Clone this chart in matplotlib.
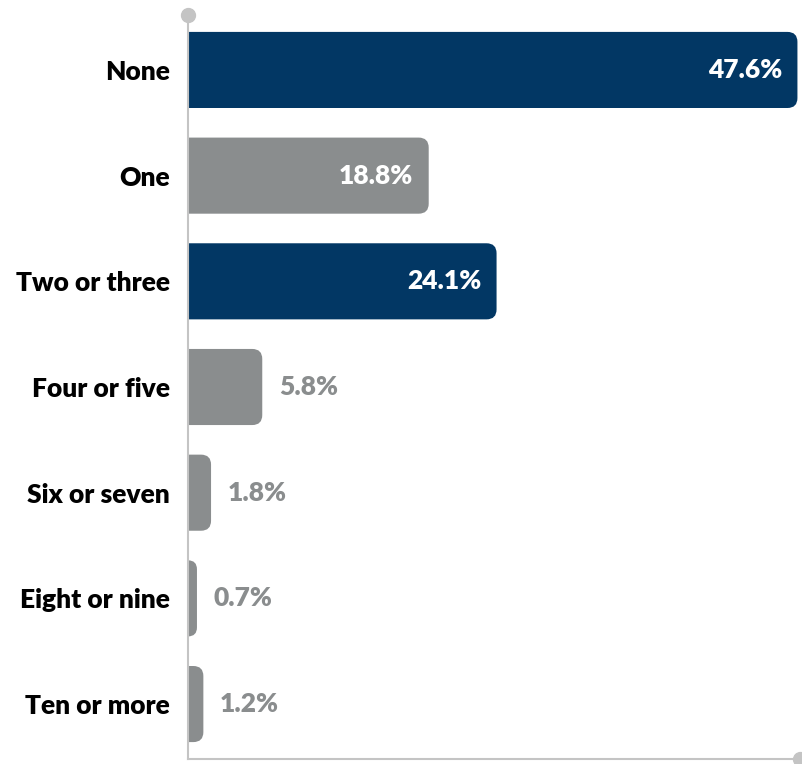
import matplotlib.pyplot as plt
from matplotlib.path import Path
from matplotlib.patches import PathPatch
import numpy as np

# Datos del gráfico
categorias = ["None", "One", "Two or three", "Four or five", "Six or seven",
              "Eight or nine", "Ten or more"]
valores = [47.6, 18.8, 24.1, 5.8, 1.8, 0.7, 1.2]
colores = ["#023764", "#8a8d8e", "#023764", "#8a8d8e", "#8a8d8e", "#8a8d8e", "#8a8d8e"]

GRIS = "#8a8d8e"
GRIS_EJE = "#c4c4c4"

plt.rcParams['font.family'] = ['Lato', 'DejaVu Sans']

W, H = 803, 764
fig = plt.figure(figsize=(W / 100, H / 100), dpi=100)
# ejes en pixeles: x de 188 a 800, y de 15 a 759
ax = fig.add_axes([188 / W, 1 - 759 / H, (800 - 188) / W, (759 - 15) / H])

xmax = 47.8
ax.set_xlim(0, xmax)
ax.set_ylim(len(categorias) - 0.48, -0.52)

alto_barra = 0.72
# pixeles por unidad para redondear esquinas
px_x = (800 - 188) / xmax
px_y = (759 - 15) / (len(categorias) + 0.04)
r_px = 10

def barra_redondeada(y, ancho, color):
    y0, y1 = y - alto_barra / 2, y + alto_barra / 2
    r = min(r_px, ancho * px_x)
    rx, ry = r / px_x, r / px_y
    verts = [(0, y0), (ancho - rx, y0), (ancho, y0), (ancho, y0 + ry),
             (ancho, y1 - ry), (ancho, y1), (ancho - rx, y1), (0, y1), (0, y0)]
    codes = [Path.MOVETO, Path.LINETO, Path.CURVE3, Path.CURVE3,
             Path.LINETO, Path.CURVE3, Path.CURVE3, Path.LINETO, Path.CLOSEPOLY]
    ax.add_patch(PathPatch(Path(verts, codes), facecolor=color, edgecolor='none', zorder=2))

PESO = 'heavy'
TAM = 19

for i, (v, c) in enumerate(zip(valores, colores)):
    barra_redondeada(i, v, c)
    texto = f"{v:.1f}%"
    if v > 10:
        ax.annotate(texto, (v, i), xytext=(-11, 0), textcoords='offset points',
                    ha='right', va='center', color='white', fontsize=TAM, fontweight=PESO)
    else:
        ax.annotate(texto, (v, i), xytext=(12, 0), textcoords='offset points',
                    ha='left', va='center', color=GRIS, fontsize=TAM, fontweight=PESO)

ax.set_yticks(range(len(categorias)))
ax.set_yticklabels(categorias, fontsize=TAM, fontweight=PESO, color='black')
ax.tick_params(axis='y', length=0, pad=13)
ax.set_xticks([])

for lado in ['top', 'right']:
    ax.spines[lado].set_visible(False)
ax.spines['left'].set_color(GRIS_EJE)
ax.spines['bottom'].set_color(GRIS_EJE)
ax.spines['left'].set_linewidth(1.5)
ax.spines['bottom'].set_linewidth(1.5)

# circulos en los extremos de los ejes
ax.plot([0], [-0.52], 'o', color=GRIS_EJE, markersize=10, clip_on=False, zorder=3)
ax.plot([xmax], [len(categorias) - 0.48], 'o', color=GRIS_EJE, markersize=10,
        clip_on=False, zorder=3)

fig.savefig("out.png", dpi=100)
